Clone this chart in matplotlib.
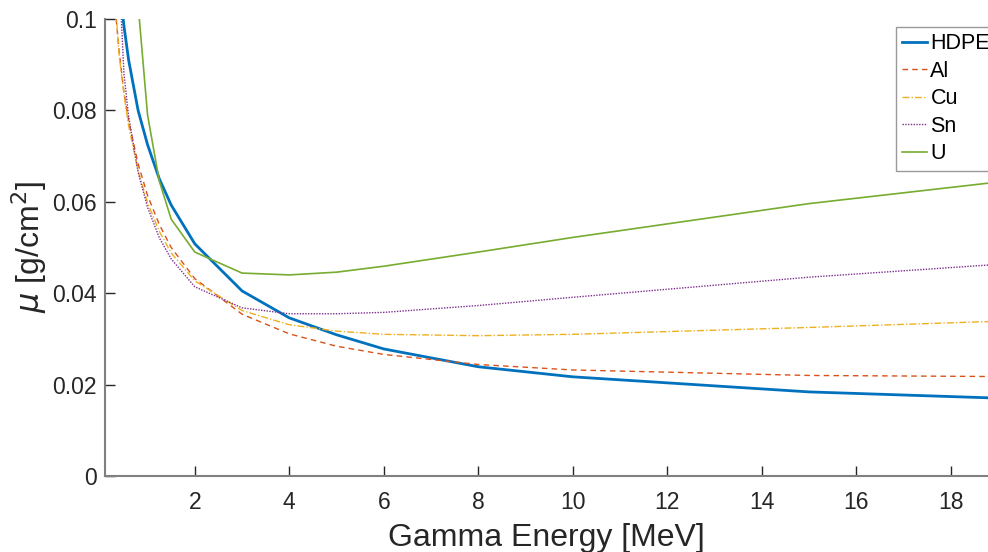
import matplotlib
matplotlib.use("Agg")
from matplotlib import pyplot as plt

# photon energies [MeV] and mass attenuation coefficients [cm^2/g]
energy = [0.3, 0.4, 0.5, 0.6, 0.8, 1.0, 1.25, 1.5, 2, 3, 4, 5, 6, 8, 10, 15, 20]
hdpe = [0.122, 0.108, 0.0985, 0.091, 0.080, 0.0725, 0.065, 0.0593, 0.0508, 0.0405,
        0.0346, 0.0309, 0.0278, 0.0239, 0.0217, 0.0184, 0.0167]
al = [0.1042, 0.0928, 0.0840, 0.0777, 0.0683, 0.0614, 0.0550, 0.0500, 0.0432, 0.0354,
      0.0311, 0.0284, 0.0266, 0.0244, 0.0232, 0.0220, 0.0217]
cu = [0.1061, 0.0919, 0.0836, 0.0766, 0.0668, 0.0598, 0.0535, 0.0488, 0.0427, 0.0362,
      0.0331, 0.0317, 0.0310, 0.0307, 0.0310, 0.0325, 0.0342]
sn = [0.150, 0.110, 0.0881, 0.0786, 0.0665, 0.0588, 0.0521, 0.0475, 0.0414, 0.0368,
      0.0355, 0.0355, 0.0358, 0.0373, 0.0391, 0.0435, 0.0470]
u = [0.40, 0.25, 0.19, 0.15, 0.1032, 0.0790, 0.0645, 0.0562, 0.0490, 0.0444,
     0.0440, 0.0446, 0.0459, 0.0490, 0.0522, 0.0596, 0.0655]

plt.rcParams['font.family'] = ['Liberation Sans', 'DejaVu Sans']

fig = plt.figure(figsize=(9.88, 5.52), dpi=100)
ax = fig.add_axes([0.1063, 0.1377, 0.8937, 0.8279])

ax.plot(energy, hdpe, color='#0072BD', lw=2.0, label='HDPE')
ax.plot(energy, al, color='#D95319', lw=1.0, ls=(0, (4, 3)), label='Al')
ax.plot(energy, cu, color='#EDB120', lw=1.0, ls=(0, (5, 1.5, 1, 1.5)), label='Cu')
ax.plot(energy, sn, color='#7E2F8E', lw=1.0, ls=(0, (1, 1)), label='Sn')
ax.plot(energy, u, color='#77AC30', lw=1.2, label='U')

ax.set_xlim(0.1, 18.79)
ax.set_ylim(0, 0.1)
ax.set_xticks([2, 4, 6, 8, 10, 12, 14, 16, 18])
ax.set_yticks([0, 0.02, 0.04, 0.06, 0.08, 0.1])
ax.set_yticklabels(['0', '0.02', '0.04', '0.06', '0.08', '0.1'])

for side in ['top', 'right']:
    ax.spines[side].set_visible(False)
for side in ['left', 'bottom']:
    ax.spines[side].set_color('#808080')
    ax.spines[side].set_linewidth(1.5)
ax.tick_params(axis='both', direction='in', length=7, width=1, color='#262626',
               labelsize=16.5, labelcolor='#262626', pad=6)
ax.tick_params(axis='x', pad=11)

ax.set_xlabel('Gamma Energy [MeV]', fontsize=23, color='#262626', labelpad=6)
ax.set_ylabel(r'$\mu$ [g/cm$^2$]', fontsize=23, color='#262626', labelpad=2)

leg = ax.legend(loc='upper left', bbox_to_anchor=(896 / 988, 1 - 27 / 552),
                bbox_transform=fig.transFigure, borderaxespad=0,
                fontsize=15.5, frameon=True, fancybox=False,
                edgecolor='#808080', handlelength=1.15, handletextpad=0.15,
                labelspacing=0.3, borderpad=0.3)
leg.get_frame().set_linewidth(1.0)

fig.savefig('out.png', dpi=100)
